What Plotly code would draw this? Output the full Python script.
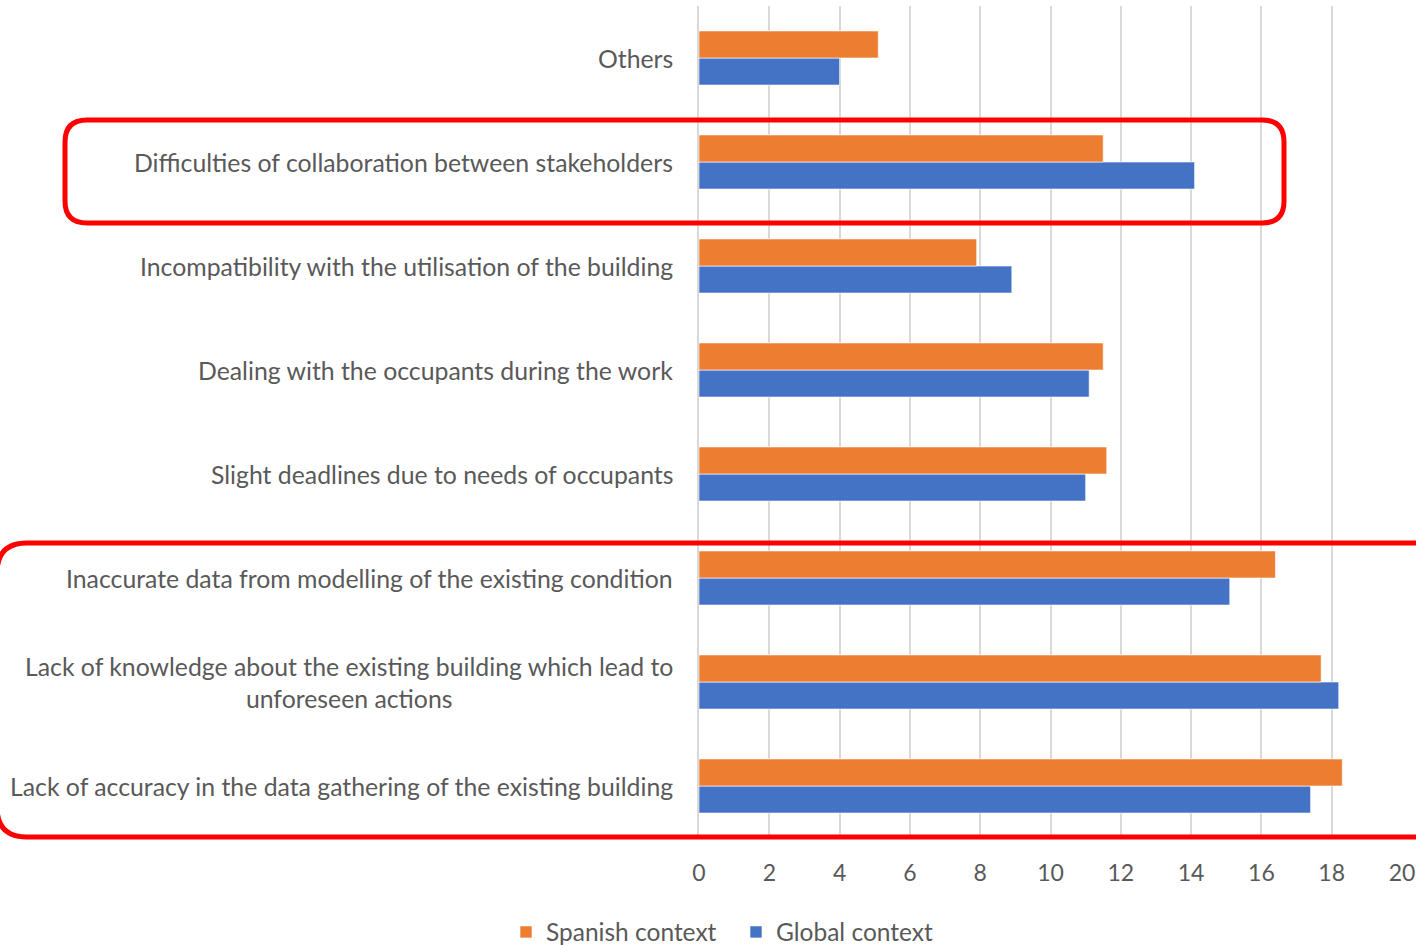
import plotly.graph_objects as go

categories = [
    "Lack of accuracy in the data gathering of the existing building",
    "Lack of knowledge about the existing building which lead to<br>unforeseen actions",
    "Inaccurate data from modelling of the existing condition",
    "Slight deadlines due to needs of occupants",
    "Dealing with the occupants during the work",
    "Incompatibility with the utilisation of the building",
    "Difficulties of collaboration between stakeholders",
    "Others",
]
spanish = [18.3, 17.7, 16.4, 11.6, 11.5, 7.9, 11.5, 5.1]
global_ctx = [17.4, 18.2, 15.1, 11.0, 11.1, 8.9, 14.1, 4.0]
x_ticks = [0, 2, 4, 6, 8, 10, 12, 14, 16, 18, 20]

W, H = 1416, 945
L, R, T, B = 699, 14, 6, 107
PW, PH = W - L - R, H - T - B


def px(x):
    return (x - L) / PW


def py(y):
    return (H - B - y) / PH


def rounded_rect(x0, y0, x1, y1, r):
    rx, ry = r / PW, r / PH
    a, b, c, d = px(x0), py(y1), px(x1), py(y0)  # left, bottom, right, top (paper)
    return (
        f"M {a+rx},{d} L {c-rx},{d} Q {c},{d} {c},{d-ry} "
        f"L {c},{b+ry} Q {c},{b} {c-rx},{b} "
        f"L {a+rx},{b} Q {a},{b} {a},{b+ry} "
        f"L {a},{d-ry} Q {a},{d} {a+rx},{d} Z"
    )


font_family = "Lato, Open Sans, sans-serif"
gray = "#595959"

fig = go.Figure()
fig.add_trace(go.Bar(
    y=categories, x=global_ctx, orientation="h", name="Global context",
    marker=dict(color="#4472C4", line=dict(color="rgba(255,255,255,0.6)", width=1)),
))
fig.add_trace(go.Bar(
    y=categories, x=spanish, orientation="h", name="Spanish context",
    marker=dict(color="#ED7D31", line=dict(color="rgba(255,255,255,0.6)", width=1)),
))

annotations = [
    dict(xref="paper", yref="y", x=0, y=c, text=c, xanchor="right",
         yanchor="middle", align="center", showarrow=False, xshift=-24,
         font=dict(size=24.8, color=gray, family=font_family))
    for c in categories
]

fig.update_layout(
    width=W, height=H,
    margin=dict(l=L, r=R, t=T, b=B, pad=0, autoexpand=False),
    paper_bgcolor="white", plot_bgcolor="white",
    barmode="group", bargap=0.48, bargroupgap=0,
    font=dict(family=font_family, size=20, color=gray),
    showlegend=True,
    legend=dict(
        orientation="h", traceorder="reversed",
        x=px(506), xanchor="left", y=py(932), yanchor="middle",
        font=dict(size=24.5, color=gray), itemwidth=30,
        entrywidth=185, entrywidthmode="pixels",
    ),
    xaxis=dict(
        range=[0, 20], tickvals=x_ticks, showgrid=True,
        gridcolor="#D9D9D9", gridwidth=2, zeroline=False,
        showline=False, ticks="", ticklabelstandoff=19, automargin=False,
        tickfont=dict(size=23, color=gray),
    ),
    yaxis=dict(
        showgrid=False, showline=True, linecolor="#D9D9D9", linewidth=2,
        ticks="", showticklabels=False, automargin=False,
    ),
    annotations=annotations,
    shapes=[
        dict(type="path", xref="paper", yref="paper",
             path=rounded_rect(65, 120, 1284, 223, 22),
             line=dict(color="#FF0000", width=5)),
        dict(type="path", xref="paper", yref="paper",
             path=rounded_rect(-3, 543, 1460, 837, 30),
             line=dict(color="#FF0000", width=5)),
    ],
)

fig.write_html("out.html")
